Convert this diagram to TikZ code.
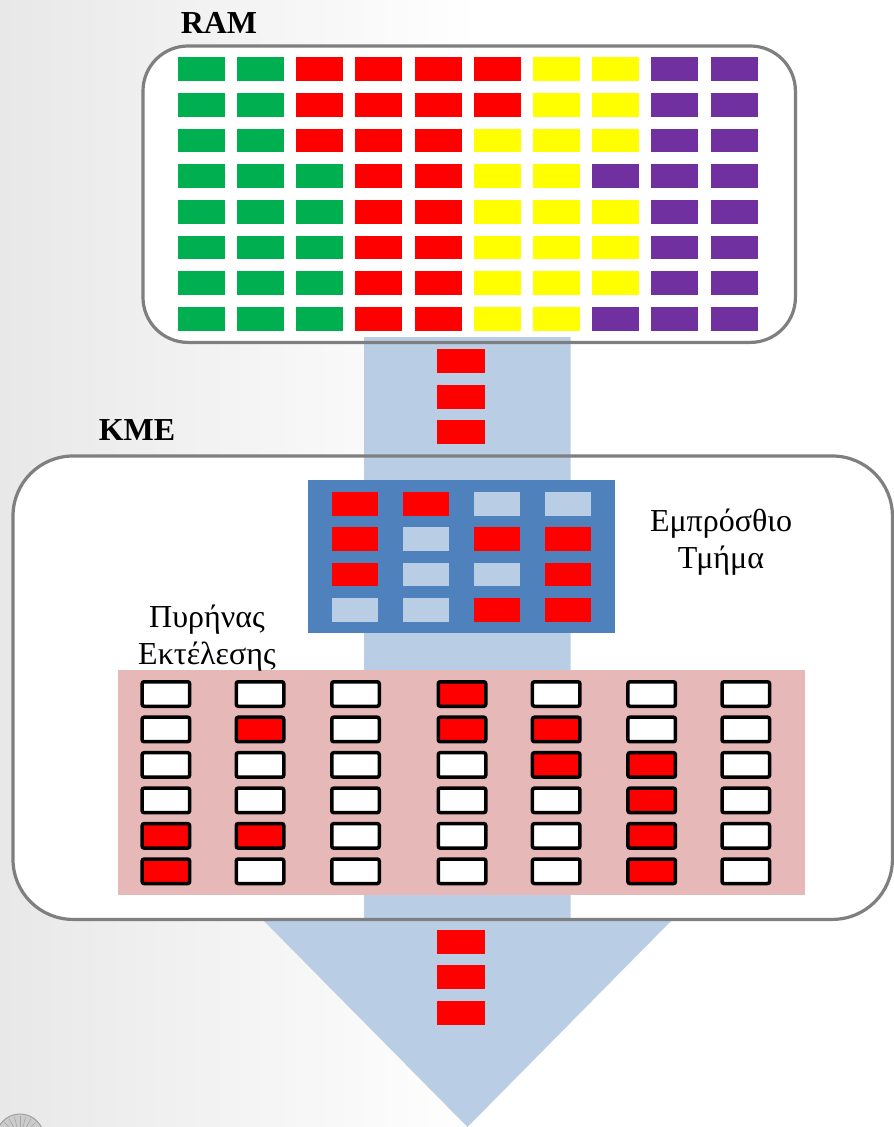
\documentclass[tikz,border=0pt]{standalone}
\usepackage{fontspec}
\setmainfont{Liberation Serif}

% palette
\definecolor{ramG}{HTML}{00B050}
\definecolor{ramR}{HTML}{FF0000}
\definecolor{ramY}{HTML}{FFFF00}
\definecolor{ramP}{HTML}{7030A0}
\definecolor{feR}{HTML}{FF0000}
\definecolor{feL}{HTML}{B9CDE5}
\definecolor{exR}{HTML}{FF0000}
\definecolor{exW}{HTML}{FFFFFF}
\definecolor{busblue}{HTML}{B9CDE5}
\definecolor{frontblue}{HTML}{4F81BD}
\definecolor{corepink}{HTML}{E6B9B8}
\definecolor{framegray}{HTML}{7F7F7F}

\tikzset{
  ramcell/.style={rectangle, inner sep=0pt, minimum width=47pt, minimum height=23.7pt},
  fecell/.style={rectangle, inner sep=0pt, minimum width=46.6pt, minimum height=23.5pt},
  excell/.style={rectangle, inner sep=0pt, draw=black, line width=3.5pt, rounded corners=2pt,
                 minimum width=47.5pt, minimum height=24.5pt},
  buscell/.style={rectangle, inner sep=0pt, fill=ramR, minimum width=47.3pt, minimum height=23.8pt},
  frameline/.style={draw=framegray, line width=3.2pt},
  title/.style={font=\fontsize{32}{38}\selectfont\bfseries, inner sep=0pt, anchor=base},
  label/.style={font=\fontsize{32}{37}\selectfont, inner sep=0pt, align=center, anchor=base},
}

\begin{document}
\begin{tikzpicture}[x=1pt, y=-1pt]
\useasboundingbox (0,0) rectangle (894,1127);

% page background
\fill[white] (0,0) rectangle (894,1127);
\shade[left color=black!9, right color=white] (0,0) rectangle (480,1127);

% emblem in the lower left corner
\begin{scope}
  \clip (0,0) rectangle (894,1127);
  \fill[gray!40, draw=gray!75, line width=1pt] (20,1138) circle[radius=24];
  \foreach \a in {195,210,...,345}
    \draw[gray!70, line width=0.6pt] (20,1138) -- +(\a:22);
\end{scope}

% container fills
\node[rectangle, rounded corners=45pt, fill=white, inner sep=0pt, anchor=north west,
      minimum width=652pt, minimum height=296pt] (ram) at (143,46) {};
\node[rectangle, rounded corners=60pt, fill=white, inner sep=0pt, anchor=north west,
      minimum width=879pt, minimum height=463pt] (kme) at (13,456) {};

% data path: shaft and arrow head
\fill[busblue] (364,337) -- (570.6,337) -- (570.6,920) -- (672,920) -- (467.5,1127)
  -- (263,920) -- (364,920) -- cycle;

% container borders
\draw[frameline, rounded corners=45pt] (ram.north west) rectangle (ram.south east);
\draw[frameline, rounded corners=60pt] (kme.north west) rectangle (kme.south east);

% memory contents
\foreach \row [count=\j from 0] in {
  {G,G,R,R,R,R,Y,Y,P,P},
  {G,G,R,R,R,R,Y,Y,P,P},
  {G,G,R,R,R,Y,Y,Y,P,P},
  {G,G,G,R,R,Y,Y,P,P,P},
  {G,G,G,R,R,Y,Y,Y,P,P},
  {G,G,G,R,R,Y,Y,Y,P,P},
  {G,G,G,R,R,Y,Y,Y,P,P},
  {G,G,G,R,R,Y,Y,P,P,P}} {
  \foreach \c [count=\i from 0] in \row {
    \node[ramcell, fill=ram\c] (ram-\j-\i) at ({201.2+59.2*\i},{69.2+35.67*\j}) {};
  }
}

% instructions travelling from memory
\node[buscell] (in-1) at (461,361) {};
\node[buscell] (in-2) at (461,396.9) {};
\node[buscell] (in-3) at (461,432) {};

% front end
\node[rectangle, fill=frontblue, inner sep=0pt, anchor=north west,
      minimum width=306.7pt, minimum height=153.4pt] (front) at (308,479.3) {};
\foreach \row [count=\j from 0] in {
  {R,R,L,L},
  {R,L,R,R},
  {R,L,L,R},
  {L,L,R,R}} {
  \foreach \c [count=\i from 0] in \row {
    \node[fecell, fill=fe\c] (fe-\j-\i) at ({355.1+70.9*\i},{503.75+35.4*\j}) {};
  }
}

% execution core
\node[rectangle, fill=corepink, inner sep=0pt, anchor=north west,
      minimum width=687.4pt, minimum height=225.7pt] (core) at (117.4,669.3) {};
\foreach \row [count=\j from 0] in {
  {W,W,W,R,W,W,W},
  {W,R,W,R,R,W,W},
  {W,W,W,W,R,R,W},
  {W,W,W,W,W,R,W},
  {R,R,W,W,W,R,W},
  {R,W,W,W,W,R,W}} {
  \foreach \c [count=\i from 0] in \row {
    \pgfmathsetmacro\cx{{165.9,260,355.5,462,556.2,651.7,745.8}[\i]}
    \node[excell, fill=ex\c] (ex-\j-\i) at (\cx,{694+35.46*\j}) {};
  }
}

% retired instructions
\node[buscell] (out-1) at (461,941.7) {};
\node[buscell] (out-2) at (461,977.3) {};
\node[buscell] (out-3) at (461,1013) {};

% labels (base anchor sits on the last line)
\node[title] (ram-title) at (219,33.3) {RAM};
\node[title] (kme-title) at (137,440) {KME};
\node[label] (front-label) at (721,568) {Εμπρόσθιο\\Τμήμα};
\node[label] (core-label) at (207,664) {Πυρήνας\\Εκτέλεσης};

\end{tikzpicture}
\end{document}
